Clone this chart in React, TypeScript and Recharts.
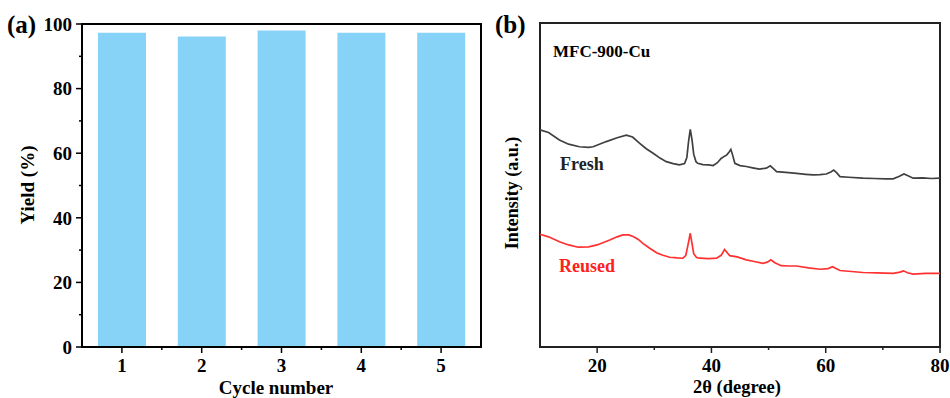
import { BarChart, Bar, LineChart, Line, XAxis, YAxis, ReferenceArea } from 'recharts';

// (a) recycling test
const cycles = [1, 2, 3, 4, 5];
const yields = [97.3, 96.1, 98.0, 97.3, 97.3];
const yieldTicks = [0, 10, 20, 30, 40, 50, 60, 70, 80, 90, 100];

// (b) XRD patterns, MFC-900-Cu
const freshAngles = [
  10, 11.5, 13.4, 15, 16.9, 18.5, 19.3, 21.6, 23.5, 25.1, 26.2, 27.4, 28.6, 29.8, 31, 32.1, 33.3, 34.4,
  35.3, 35.7, 36.0, 36.3, 36.6, 36.9, 37.3, 37.6, 38.5, 39.5, 40.3, 41.0, 41.7, 42.3, 42.7, 43.1, 43.4,
  43.7, 44.1, 45, 46.1, 47.2, 48.4, 49.6, 50.3, 50.9, 51.4, 53, 54.9, 56.5, 57.8, 59, 60.1, 60.9, 61.4,
  61.9, 62.5, 64, 66.5, 68.5, 70.5, 71.8, 72.8, 73.7, 74.5, 75.3, 77, 78.5, 80,
];
const freshIntensity = [
  67.0, 66.2, 63.9, 62.6, 61.8, 61.6, 61.8, 63.4, 64.6, 65.4, 64.8, 62.9, 61.2, 59.8, 58.3, 57.2, 56.6, 56.2,
  56.6, 58.5, 63.5, 67.2, 64.0, 59.5, 57.2, 56.7, 56.3, 56.2, 56.0, 56.8, 58.2, 58.9, 59.3, 60.2, 61.0,
  59.3, 56.7, 56.0, 55.7, 55.3, 54.9, 55.2, 55.9, 55.0, 54.1, 53.9, 53.6, 53.3, 53.1, 53.2, 53.4, 54.0, 54.6,
  53.8, 52.6, 52.4, 52.1, 52.0, 51.9, 51.9, 52.6, 53.4, 52.8, 52.1, 52.2, 52.0, 52.1,
];
const reusedAngles = [
  10, 11.5, 13.4, 15, 16.7, 18.5, 20, 22.2, 23.5, 24.5, 25.5, 26.3, 27.2, 28.0, 29.2, 30.4, 31.5, 32.7,
  34.0, 35.0, 35.5, 35.9, 36.3, 36.6, 36.9, 37.4, 37.9, 39.5, 40.9, 41.7, 42.3, 42.8, 43.2, 44.5, 46.1,
  47.5, 49.0, 49.8, 50.4, 51.1, 52.2, 53.5, 54.9, 57, 59.0, 60.4, 61.2, 61.8, 62.5, 64.5, 66.5, 69, 71.8,
  73.0, 73.6, 74.3, 75.3, 77.5, 80,
];
const reusedIntensity = [
  34.8, 34.0, 32.5, 31.5, 30.8, 30.9, 31.5, 33.0, 34.0, 34.6, 34.6, 34.1, 33.2, 32.0, 30.5, 29.1, 28.3, 27.7,
  27.5, 27.4, 28.2, 31.5, 35.1, 32.0, 28.8, 27.6, 27.4, 27.3, 27.4, 28.3, 30.1, 29.0, 28.2, 27.8, 26.9,
  26.4, 25.8, 26.2, 26.9, 26.0, 25.1, 25.0, 25.0, 24.4, 24.0, 24.2, 24.8, 24.2, 23.6, 23.3, 23.0, 22.9, 22.7,
  23.1, 23.5, 22.9, 22.5, 22.7, 22.7,
];
const angleTicks = [20, 30, 40, 50, 60, 70, 80];

const yieldData = cycles.map((c, i) => ({ cycle: c, value: yields[i] }));
const freshData = freshAngles.map((a, i) => ({ angle: a, intensity: freshIntensity[i] }));
const reusedData = reusedAngles.map((a, i) => ({ angle: a, intensity: reusedIntensity[i] }));

const FONT = '"Liberation Serif", "Times New Roman", serif';
const HALF_BAND = 39.9;

function YieldTick({ x, y, payload }: any) {
  const major = payload.value % 20 === 0;
  const ax = x + 10;
  return (
    <g>
      <line x1={ax - (major ? 6 : 3)} x2={ax} y1={y} y2={y} stroke="#000" strokeWidth={1.5} />
      {major && (
        <text x={x} y={y} dy="0.355em" textAnchor="end" fill="#000" fontSize={19} fontWeight={700} fontFamily={FONT}>
          {payload.value}
        </text>
      )}
    </g>
  );
}

function CycleTick({ x, y, payload }: any) {
  const ay = y - 12;
  return (
    <g>
      <line x1={x} x2={x} y1={ay} y2={ay + 6} stroke="#000" strokeWidth={1.5} />
      {payload.value < 5 && (
        <line x1={x + HALF_BAND} x2={x + HALF_BAND} y1={ay} y2={ay + 3} stroke="#000" strokeWidth={1.5} />
      )}
      <text x={x} y={y} dy="0.71em" textAnchor="middle" fill="#000" fontSize={19} fontWeight={700} fontFamily={FONT}>
        {payload.value}
      </text>
    </g>
  );
}

function AngleTick({ x, y, payload }: any) {
  const major = payload.value % 20 === 0;
  const ay = y - 12;
  return (
    <g>
      <line x1={x} x2={x} y1={ay} y2={ay + (major ? 6 : 3)} stroke="#222" strokeWidth={1.5} />
      {major && (
        <text x={x} y={y} dy="0.71em" textAnchor="middle" fill="#000" fontSize={19} fontWeight={700} fontFamily={FONT}>
          {payload.value}
        </text>
      )}
    </g>
  );
}

const txt = (extra: any) => ({
  position: 'absolute' as const,
  fontFamily: FONT,
  fontWeight: 700,
  lineHeight: 1,
  whiteSpace: 'nowrap' as const,
  color: '#000',
  ...extra,
});

export default function App() {
  return (
    <div style={{ position: 'absolute', left: 0, top: 0, width: 950, height: 398, background: '#fff', fontFamily: FONT }}>
      <div style={{ position: 'absolute', left: 0, top: 0 }}>
        <BarChart width={482} height={398} data={yieldData} margin={{ top: 24, right: 1, bottom: 0, left: 0 }}>
          <XAxis
            dataKey="cycle"
            type="number"
            domain={[0.5, 5.5]}
            ticks={cycles}
            interval={0}
            height={51}
            tickSize={0}
            tickMargin={12}
            tickLine={false}
            tick={<CycleTick />}
            axisLine={{ stroke: '#000', strokeWidth: 2 }}
          />
          <YAxis
            domain={[0, 100]}
            ticks={yieldTicks}
            interval={0}
            width={82}
            tickSize={0}
            tickMargin={10}
            tickLine={false}
            tick={<YieldTick />}
            axisLine={{ stroke: '#000', strokeWidth: 2 }}
          />
          <Bar dataKey="value" fill="#87D3F8" barSize={48} isAnimationActive={false} />
          <ReferenceArea x1={0.5} x2={5.5} y1={0} y2={100} fill="none" fillOpacity={0} stroke="#000" strokeWidth={2} />
        </BarChart>
      </div>

      <div style={{ position: 'absolute', left: 480, top: 0 }}>
        <LineChart width={470} height={398} margin={{ top: 23, right: 10, bottom: 0, left: 60 }}>
          <XAxis
            dataKey="angle"
            type="number"
            domain={[10, 80]}
            ticks={angleTicks}
            interval={0}
            height={51}
            tickSize={0}
            tickMargin={12}
            tickLine={false}
            tick={<AngleTick />}
            axisLine={{ stroke: '#222', strokeWidth: 2 }}
            allowDuplicatedCategory={false}
          />
          <YAxis hide domain={[0, 100]} />
          <Line data={freshData} dataKey="intensity" stroke="#404040" strokeWidth={1.7} dot={false} isAnimationActive={false} />
          <Line data={reusedData} dataKey="intensity" stroke="#FF3030" strokeWidth={1.7} dot={false} isAnimationActive={false} />
          <ReferenceArea x1={10} x2={80} y1={0} y2={100} fill="none" fillOpacity={0} stroke="#222" strokeWidth={2} />
        </LineChart>
      </div>

      <div style={txt({ left: 7, top: 12, fontSize: 25 })}>(a)</div>
      <div style={txt({ left: 495, top: 12, fontSize: 25 })}>(b)</div>
      <div style={txt({ left: 276, top: 378, fontSize: 19, transform: 'translateX(-50%)' })}>Cycle number</div>
      <div style={txt({ left: 737, top: 378, fontSize: 18.5, transform: 'translateX(-50%)' })}>2θ (degree)</div>
      <div style={txt({ left: 26.5, top: 185, fontSize: 19, transform: 'translate(-50%, -50%) rotate(-90deg)' })}>Yield (%)</div>
      <div style={txt({ left: 512, top: 193, fontSize: 18, transform: 'translate(-50%, -50%) rotate(-90deg)' })}>Intensity (a.u.)</div>
      <div style={txt({ left: 553, top: 43, fontSize: 17 })}>MFC-900-Cu</div>
      <div style={txt({ left: 560, top: 155, fontSize: 18, color: '#222' })}>Fresh</div>
      <div style={txt({ left: 559, top: 257, fontSize: 18, color: '#FF2020' })}>Reused</div>
    </div>
  );
}
